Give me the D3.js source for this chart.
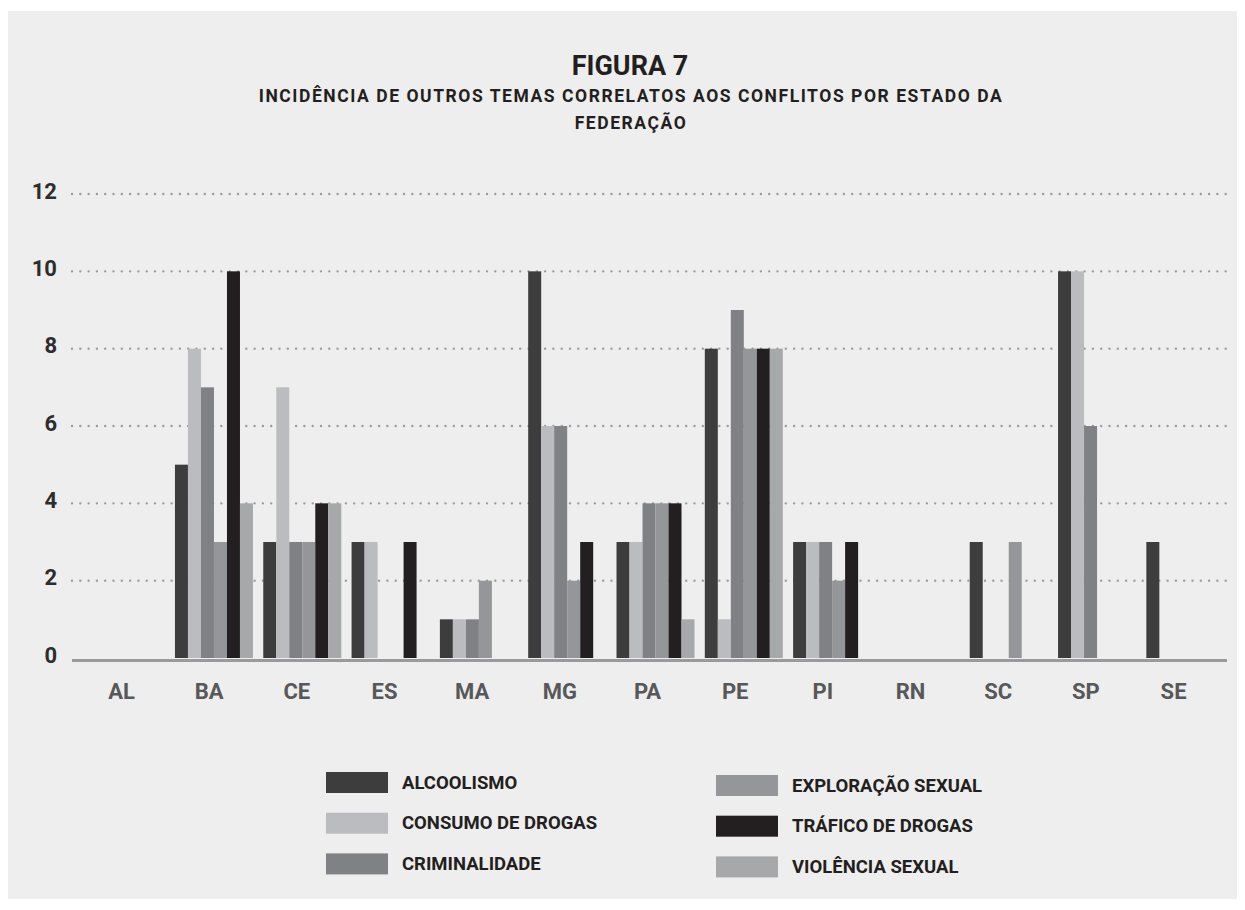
<!DOCTYPE html>
<html>
<head>
<meta charset="utf-8">
<script src="https://cdn.jsdelivr.net/npm/d3@7"></script>
<style>
  body { margin: 0; background: #fff; }
  svg { display: block; font-family: Roboto, "Noto Sans", sans-serif; }
</style>
</head>
<body>
<div class="chart"></div>
<script>
const states = ["AL", "BA", "CE", "ES", "MA", "MG", "PA", "PE", "PI", "RN", "SC", "SP", "SE"];
const themes = ["ALCOOLISMO", "CONSUMO DE DROGAS", "CRIMINALIDADE", "EXPLORAÇÃO SEXUAL", "TRÁFICO DE DROGAS", "VIOLÊNCIA SEXUAL"];

// one array per theme, in state order
const alcoolismo     = [0, 5, 3, 3, 1, 10, 3, 8, 3, 0, 3, 10, 3];
const consumoDrogas  = [0, 8, 7, 3, 1, 6, 3, 1, 3, 0, 0, 10, 0];
const criminalidade  = [0, 7, 3, 0, 1, 6, 4, 9, 3, 0, 0, 6, 0];
const exploracao     = [0, 3, 3, 0, 2, 2, 4, 8, 2, 0, 3, 0, 0];
const trafico        = [0, 10, 4, 3, 0, 3, 4, 8, 3, 0, 0, 0, 0];
const violencia      = [0, 4, 4, 0, 0, 0, 1, 8, 0, 0, 0, 0, 0];

const yTicks = [0, 2, 4, 6, 8, 10, 12];
const colors = ["#3d3d3d", "#bbbcbf", "#808184", "#959699", "#231f20", "#a7a8aa"];

const series = [alcoolismo, consumoDrogas, criminalidade, exploracao, trafico, violencia];

const W = 1245, H = 910;

const svg = d3.select(".chart")
    .append("svg")
    .attr("width", W)
    .attr("height", H);

// gray panel
svg.append("rect")
    .attr("x", 8).attr("y", 11)
    .attr("width", 1229).attr("height", 888)
    .attr("fill", "#eeeeee");

// titles
svg.append("text")
    .attr("x", 630).attr("y", 75)
    .attr("text-anchor", "middle")
    .attr("font-size", 27).attr("font-weight", 700)
    .attr("fill", "#231f20")
    .text("FIGURA 7");

const sub = ["INCIDÊNCIA DE OUTROS TEMAS CORRELATOS AOS CONFLITOS POR ESTADO DA", "FEDERAÇÃO"];
svg.selectAll(".sub")
    .data(sub)
    .enter()
    .append("text")
    .attr("class", "sub")
    .attr("x", 631)
    .attr("y", (d, i) => 102 + i * 27)
    .attr("text-anchor", "middle")
    .attr("font-size", 17.5).attr("font-weight", 700)
    .attr("letter-spacing", 1.55)
    .attr("fill", "#231f20")
    .text(d => d);

const xScale = d3.scaleBand()
    .domain(states)
    .range([81.5, 1229.5]);

// category labels sit on a slightly tighter spacing than the bar groups
const xLabel = d3.scaleBand()
    .domain(states)
    .range([77.7, 1217.4]);

const xInner = d3.scaleBand()
    .domain(themes)
    .range([0, 78]);

const yScale = d3.scaleLinear()
    .domain([0, 12])
    .range([658, 194]);

// dotted grid
svg.append("g")
    .selectAll("line")
    .data(yTicks.filter(d => d > 0))
    .enter()
    .append("line")
    .attr("x1", 72).attr("x2", 1229)
    .attr("y1", d => yScale(d)).attr("y2", d => yScale(d))
    .attr("stroke", "#9a9a9c")
    .attr("stroke-width", 2.4)
    .attr("stroke-linecap", "round")
    .attr("stroke-dasharray", "0 8.3");

// y labels
svg.append("g")
    .selectAll("text")
    .data(yTicks)
    .enter()
    .append("text")
    .attr("x", 57)
    .attr("y", d => yScale(d) - 3)
    .attr("dy", "0.35em")
    .attr("text-anchor", "end")
    .attr("font-size", 22).attr("font-weight", 700)
    .attr("fill", "#2d2d2d")
    .text(d => d);

// bars
const groups = svg.append("g")
    .selectAll("g")
    .data(states)
    .enter()
    .append("g")
    .attr("transform", d => `translate(${xScale(d) + (xScale.bandwidth() - 78) / 2},0)`);

groups.selectAll("rect")
    .data((s, i) => themes.map((t, j) => ({ t, j, v: series[j][i] })))
    .enter()
    .append("rect")
    .attr("x", d => xInner(d.t))
    .attr("width", xInner.bandwidth())
    .attr("y", d => yScale(d.v))
    .attr("height", d => yScale(0) - yScale(d.v))
    .attr("fill", d => colors[d.j]);

// baseline
svg.append("line")
    .attr("x1", 72).attr("x2", 1227)
    .attr("y1", 660.5).attr("y2", 660.5)
    .attr("stroke", "#9a9a9c")
    .attr("stroke-width", 3);

// x labels
svg.append("g")
    .selectAll("text")
    .data(states)
    .enter()
    .append("text")
    .attr("x", d => xLabel(d) + xLabel.bandwidth() / 2)
    .attr("y", 699)
    .attr("text-anchor", "middle")
    .attr("font-size", 22).attr("font-weight", 700)
    .attr("fill", "#58585a")
    .text(d => d);

// legend
const legend = svg.append("g")
    .selectAll("g")
    .data(themes)
    .enter()
    .append("g")
    .attr("transform", (d, i) => {
      const col = Math.floor(i / 3), row = i % 3;
      return `translate(${col ? 716 : 326},${(col ? 775 : 772) + row * 40.7})`;
    });

legend.append("rect")
    .attr("width", 62).attr("height", 21)
    .attr("fill", (d, i) => colors[i]);

legend.append("text")
    .attr("x", 76).attr("y", 16.5)
    .attr("font-size", 18.5).attr("font-weight", 700)
    .attr("fill", "#231f20")
    .text(d => d);
</script>
</body>
</html>
